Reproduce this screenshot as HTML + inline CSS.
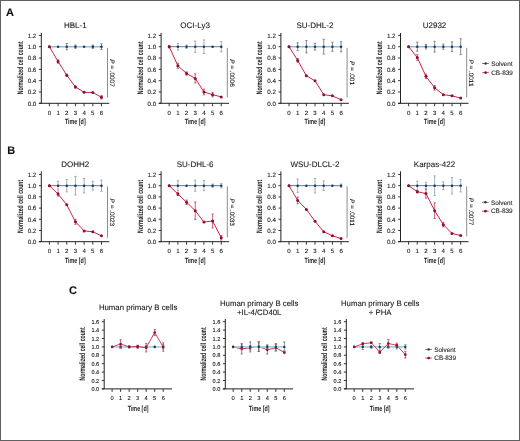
<!DOCTYPE html>
<html><head><meta charset="utf-8"><style>
html,body{margin:0;padding:0;background:#fff;}
#f{position:relative;width:520px;height:441px;box-sizing:border-box;border:1px solid #606060;overflow:hidden;background:#fff;}
text{stroke:#1a1a1a;stroke-width:0.1px;}
svg{position:absolute;left:-1px;top:-1px;font-family:"Liberation Sans", sans-serif;will-change:transform;text-rendering:geometricPrecision;}
</style></head><body><div id="f">
<svg width="520" height="441" viewBox="0 0 520 441">
<path d="M41.30 33.00V103.30M38.90 103.30H109.30" stroke="#222" stroke-width="1" fill="none"/>
<text x="36.30" y="105.53" font-size="6.2" text-anchor="end" fill="#1a1a1a" font-weight="normal" >0.0</text>
<text x="36.30" y="94.21" font-size="6.2" text-anchor="end" fill="#1a1a1a" font-weight="normal" >0.2</text>
<text x="36.30" y="82.89" font-size="6.2" text-anchor="end" fill="#1a1a1a" font-weight="normal" >0.4</text>
<text x="36.30" y="71.57" font-size="6.2" text-anchor="end" fill="#1a1a1a" font-weight="normal" >0.6</text>
<text x="36.30" y="60.25" font-size="6.2" text-anchor="end" fill="#1a1a1a" font-weight="normal" >0.8</text>
<text x="36.30" y="48.93" font-size="6.2" text-anchor="end" fill="#1a1a1a" font-weight="normal" >1.0</text>
<text x="36.30" y="37.61" font-size="6.2" text-anchor="end" fill="#1a1a1a" font-weight="normal" >1.2</text>
<text x="49.40" y="114.90" font-size="6.1" text-anchor="middle" fill="#1a1a1a" font-weight="normal" >0</text>
<text x="58.08" y="114.90" font-size="6.1" text-anchor="middle" fill="#1a1a1a" font-weight="normal" >1</text>
<text x="66.76" y="114.90" font-size="6.1" text-anchor="middle" fill="#1a1a1a" font-weight="normal" >2</text>
<text x="75.44" y="114.90" font-size="6.1" text-anchor="middle" fill="#1a1a1a" font-weight="normal" >3</text>
<text x="84.12" y="114.90" font-size="6.1" text-anchor="middle" fill="#1a1a1a" font-weight="normal" >4</text>
<text x="92.80" y="114.90" font-size="6.1" text-anchor="middle" fill="#1a1a1a" font-weight="normal" >5</text>
<text x="101.48" y="114.90" font-size="6.1" text-anchor="middle" fill="#1a1a1a" font-weight="normal" >6</text>
<path d="M38.90 103.30H41.30M38.90 91.98H41.30M38.90 80.66H41.30M38.90 69.34H41.30M38.90 58.02H41.30M38.90 46.70H41.30M38.90 35.38H41.30M49.40 103.30V106.30M58.08 103.30V106.30M66.76 103.30V106.30M75.44 103.30V106.30M84.12 103.30V106.30M92.80 103.30V106.30M101.48 103.30V106.30" stroke="#222" stroke-width="0.9" fill="none"/>
<text x="75.30" y="27.70" font-size="8.0" text-anchor="middle" fill="#1a1a1a" font-weight="normal" >HBL-1</text>
<text transform="translate(22.70,67.80) rotate(-90)" x="0" y="0" font-size="8" text-anchor="middle" fill="#1a1a1a" font-weight="bold" style="stroke:none" textLength="53" lengthAdjust="spacingAndGlyphs">Normalized cell count</text>
<text x="75.30" y="124.00" font-size="7.6" text-anchor="middle" fill="#1a1a1a" font-weight="bold" style="stroke:none" textLength="20.8" lengthAdjust="spacingAndGlyphs">Time [d]</text>
<polyline points="49.40,46.70 58.08,46.70 66.76,46.70 75.44,46.70 84.12,46.70 92.80,46.70 101.48,46.70" fill="none" stroke="#98bad8" stroke-width="1.6"/>
<path d="M66.76 43.59V49.81M65.66 43.59H67.86M65.66 49.81H67.86M75.44 45.00V48.40M74.34 45.00H76.54M74.34 48.40H76.54M92.80 45.00V48.40M91.70 45.00H93.90M91.70 48.40H93.90M101.48 43.87V49.53M100.38 43.87H102.58M100.38 49.53H102.58" stroke="#5c6670" stroke-width="0.75" fill="none"/>
<circle cx="49.40" cy="46.70" r="1.25" fill="#1d3a58"/>
<circle cx="58.08" cy="46.70" r="1.25" fill="#1d3a58"/>
<circle cx="66.76" cy="46.70" r="1.25" fill="#1d3a58"/>
<circle cx="75.44" cy="46.70" r="1.25" fill="#1d3a58"/>
<circle cx="84.12" cy="46.70" r="1.25" fill="#1d3a58"/>
<circle cx="92.80" cy="46.70" r="1.25" fill="#1d3a58"/>
<circle cx="101.48" cy="46.70" r="1.25" fill="#1d3a58"/>
<polyline points="49.40,46.70 58.08,61.59 66.76,75.23 75.44,86.94 84.12,92.32 92.80,92.55 101.48,97.30" fill="none" stroke="#c92340" stroke-width="1.0"/>
<path d="M58.08 59.89V63.28M56.98 59.89H59.18M56.98 63.28H59.18M66.76 74.09V76.36M65.66 74.09H67.86M65.66 76.36H67.86M75.44 85.81V88.07M74.34 85.81H76.54M74.34 88.07H76.54M101.48 95.60V99.00M100.38 95.60H102.58M100.38 99.00H102.58" stroke="#b83050" stroke-width="0.75" fill="none"/>
<circle cx="49.40" cy="46.70" r="1.5" fill="#8a1030"/>
<circle cx="58.08" cy="61.59" r="1.5" fill="#8a1030"/>
<circle cx="66.76" cy="75.23" r="1.5" fill="#8a1030"/>
<circle cx="75.44" cy="86.94" r="1.5" fill="#8a1030"/>
<circle cx="84.12" cy="92.32" r="1.5" fill="#8a1030"/>
<circle cx="92.80" cy="92.55" r="1.5" fill="#8a1030"/>
<circle cx="101.48" cy="97.30" r="1.5" fill="#8a1030"/>
<path d="M107.50 47.80V97.50" stroke="#808080" stroke-width="0.9" fill="none"/>
<text transform="translate(110.10,72.95) rotate(90)" x="0" y="0" font-size="6.4" text-anchor="middle" fill="#1a1a1a"><tspan font-style="italic">P</tspan> = .0007</text>
<path d="M161.10 33.00V103.30M158.70 103.30H229.10" stroke="#222" stroke-width="1" fill="none"/>
<text x="156.10" y="105.53" font-size="6.2" text-anchor="end" fill="#1a1a1a" font-weight="normal" >0.0</text>
<text x="156.10" y="94.21" font-size="6.2" text-anchor="end" fill="#1a1a1a" font-weight="normal" >0.2</text>
<text x="156.10" y="82.89" font-size="6.2" text-anchor="end" fill="#1a1a1a" font-weight="normal" >0.4</text>
<text x="156.10" y="71.57" font-size="6.2" text-anchor="end" fill="#1a1a1a" font-weight="normal" >0.6</text>
<text x="156.10" y="60.25" font-size="6.2" text-anchor="end" fill="#1a1a1a" font-weight="normal" >0.8</text>
<text x="156.10" y="48.93" font-size="6.2" text-anchor="end" fill="#1a1a1a" font-weight="normal" >1.0</text>
<text x="156.10" y="37.61" font-size="6.2" text-anchor="end" fill="#1a1a1a" font-weight="normal" >1.2</text>
<text x="169.20" y="114.90" font-size="6.1" text-anchor="middle" fill="#1a1a1a" font-weight="normal" >0</text>
<text x="177.88" y="114.90" font-size="6.1" text-anchor="middle" fill="#1a1a1a" font-weight="normal" >1</text>
<text x="186.56" y="114.90" font-size="6.1" text-anchor="middle" fill="#1a1a1a" font-weight="normal" >2</text>
<text x="195.24" y="114.90" font-size="6.1" text-anchor="middle" fill="#1a1a1a" font-weight="normal" >3</text>
<text x="203.92" y="114.90" font-size="6.1" text-anchor="middle" fill="#1a1a1a" font-weight="normal" >4</text>
<text x="212.60" y="114.90" font-size="6.1" text-anchor="middle" fill="#1a1a1a" font-weight="normal" >5</text>
<text x="221.28" y="114.90" font-size="6.1" text-anchor="middle" fill="#1a1a1a" font-weight="normal" >6</text>
<path d="M158.70 103.30H161.10M158.70 91.98H161.10M158.70 80.66H161.10M158.70 69.34H161.10M158.70 58.02H161.10M158.70 46.70H161.10M158.70 35.38H161.10M169.20 103.30V106.30M177.88 103.30V106.30M186.56 103.30V106.30M195.24 103.30V106.30M203.92 103.30V106.30M212.60 103.30V106.30M221.28 103.30V106.30" stroke="#222" stroke-width="0.9" fill="none"/>
<text x="195.10" y="27.70" font-size="8.0" text-anchor="middle" fill="#1a1a1a" font-weight="normal" >OCI-Ly3</text>
<text transform="translate(142.50,67.80) rotate(-90)" x="0" y="0" font-size="8" text-anchor="middle" fill="#1a1a1a" font-weight="bold" style="stroke:none" textLength="53" lengthAdjust="spacingAndGlyphs">Normalized cell count</text>
<text x="195.10" y="124.00" font-size="7.6" text-anchor="middle" fill="#1a1a1a" font-weight="bold" style="stroke:none" textLength="20.8" lengthAdjust="spacingAndGlyphs">Time [d]</text>
<polyline points="169.20,46.70 177.88,46.70 186.56,46.70 195.24,46.70 203.92,46.70 212.60,46.70 221.28,46.70" fill="none" stroke="#3d5f82" stroke-width="0.85"/>
<path d="M177.88 43.30V50.10M176.78 43.30H178.98M176.78 50.10H178.98M186.56 45.00V48.40M185.46 45.00H187.66M185.46 48.40H187.66M195.24 41.04V52.36M194.14 41.04H196.34M194.14 52.36H196.34M203.92 39.91V53.49M202.82 39.91H205.02M202.82 53.49H205.02M221.28 41.61V51.79M220.18 41.61H222.38M220.18 51.79H222.38" stroke="#7f95ab" stroke-width="0.75" fill="none"/>
<circle cx="169.20" cy="46.70" r="1.25" fill="#1d3a58"/>
<circle cx="177.88" cy="46.70" r="1.25" fill="#1d3a58"/>
<circle cx="186.56" cy="46.70" r="1.25" fill="#1d3a58"/>
<circle cx="195.24" cy="46.70" r="1.25" fill="#1d3a58"/>
<circle cx="203.92" cy="46.70" r="1.25" fill="#1d3a58"/>
<circle cx="212.60" cy="46.70" r="1.25" fill="#1d3a58"/>
<circle cx="221.28" cy="46.70" r="1.25" fill="#1d3a58"/>
<polyline points="169.20,46.70 177.88,65.77 186.56,73.53 195.24,78.40 203.92,91.98 212.60,94.64 221.28,96.90" fill="none" stroke="#c92340" stroke-width="1.0"/>
<path d="M169.20 45.57V47.83M168.10 45.57H170.30M168.10 47.83H170.30M177.88 63.23V68.32M176.78 63.23H178.98M176.78 68.32H178.98M186.56 71.83V75.23M185.46 71.83H187.66M185.46 75.23H187.66M195.24 73.87V82.92M194.14 73.87H196.34M194.14 82.92H196.34M203.92 89.15V94.81M202.82 89.15H205.02M202.82 94.81H205.02M212.60 92.38V96.90M211.50 92.38H213.70M211.50 96.90H213.70" stroke="#b83050" stroke-width="0.75" fill="none"/>
<circle cx="169.20" cy="46.70" r="1.5" fill="#8a1030"/>
<circle cx="177.88" cy="65.77" r="1.5" fill="#8a1030"/>
<circle cx="186.56" cy="73.53" r="1.5" fill="#8a1030"/>
<circle cx="195.24" cy="78.40" r="1.5" fill="#8a1030"/>
<circle cx="203.92" cy="91.98" r="1.5" fill="#8a1030"/>
<circle cx="212.60" cy="94.64" r="1.5" fill="#8a1030"/>
<circle cx="221.28" cy="96.90" r="1.5" fill="#8a1030"/>
<path d="M227.30 47.80V97.50" stroke="#808080" stroke-width="0.9" fill="none"/>
<text transform="translate(229.90,72.95) rotate(90)" x="0" y="0" font-size="6.4" text-anchor="middle" fill="#1a1a1a"><tspan font-style="italic">P</tspan> = .0006</text>
<path d="M280.90 33.00V103.30M278.50 103.30H348.90" stroke="#222" stroke-width="1" fill="none"/>
<text x="275.90" y="105.53" font-size="6.2" text-anchor="end" fill="#1a1a1a" font-weight="normal" >0.0</text>
<text x="275.90" y="94.21" font-size="6.2" text-anchor="end" fill="#1a1a1a" font-weight="normal" >0.2</text>
<text x="275.90" y="82.89" font-size="6.2" text-anchor="end" fill="#1a1a1a" font-weight="normal" >0.4</text>
<text x="275.90" y="71.57" font-size="6.2" text-anchor="end" fill="#1a1a1a" font-weight="normal" >0.6</text>
<text x="275.90" y="60.25" font-size="6.2" text-anchor="end" fill="#1a1a1a" font-weight="normal" >0.8</text>
<text x="275.90" y="48.93" font-size="6.2" text-anchor="end" fill="#1a1a1a" font-weight="normal" >1.0</text>
<text x="275.90" y="37.61" font-size="6.2" text-anchor="end" fill="#1a1a1a" font-weight="normal" >1.2</text>
<text x="289.00" y="114.90" font-size="6.1" text-anchor="middle" fill="#1a1a1a" font-weight="normal" >0</text>
<text x="297.68" y="114.90" font-size="6.1" text-anchor="middle" fill="#1a1a1a" font-weight="normal" >1</text>
<text x="306.36" y="114.90" font-size="6.1" text-anchor="middle" fill="#1a1a1a" font-weight="normal" >2</text>
<text x="315.04" y="114.90" font-size="6.1" text-anchor="middle" fill="#1a1a1a" font-weight="normal" >3</text>
<text x="323.72" y="114.90" font-size="6.1" text-anchor="middle" fill="#1a1a1a" font-weight="normal" >4</text>
<text x="332.40" y="114.90" font-size="6.1" text-anchor="middle" fill="#1a1a1a" font-weight="normal" >5</text>
<text x="341.08" y="114.90" font-size="6.1" text-anchor="middle" fill="#1a1a1a" font-weight="normal" >6</text>
<path d="M278.50 103.30H280.90M278.50 91.98H280.90M278.50 80.66H280.90M278.50 69.34H280.90M278.50 58.02H280.90M278.50 46.70H280.90M278.50 35.38H280.90M289.00 103.30V106.30M297.68 103.30V106.30M306.36 103.30V106.30M315.04 103.30V106.30M323.72 103.30V106.30M332.40 103.30V106.30M341.08 103.30V106.30" stroke="#222" stroke-width="0.9" fill="none"/>
<text x="314.90" y="27.70" font-size="8.0" text-anchor="middle" fill="#1a1a1a" font-weight="normal" >SU-DHL-2</text>
<text transform="translate(262.30,67.80) rotate(-90)" x="0" y="0" font-size="8" text-anchor="middle" fill="#1a1a1a" font-weight="bold" style="stroke:none" textLength="53" lengthAdjust="spacingAndGlyphs">Normalized cell count</text>
<text x="314.90" y="124.00" font-size="7.6" text-anchor="middle" fill="#1a1a1a" font-weight="bold" style="stroke:none" textLength="20.8" lengthAdjust="spacingAndGlyphs">Time [d]</text>
<polyline points="289.00,46.70 297.68,46.70 306.36,46.70 315.04,46.70 323.72,46.70 332.40,46.70 341.08,46.70" fill="none" stroke="#98bad8" stroke-width="1.6"/>
<path d="M297.68 42.74V50.66M296.58 42.74H298.78M296.58 50.66H298.78M306.36 40.47V52.93M305.26 40.47H307.46M305.26 52.93H307.46M315.04 43.30V50.10M313.94 43.30H316.14M313.94 50.10H316.14M323.72 39.34V54.06M322.62 39.34H324.82M322.62 54.06H324.82M332.40 42.17V51.23M331.30 42.17H333.50M331.30 51.23H333.50M341.08 41.61V51.79M339.98 41.61H342.18M339.98 51.79H342.18" stroke="#5c6670" stroke-width="0.75" fill="none"/>
<circle cx="289.00" cy="46.70" r="1.25" fill="#1d3a58"/>
<circle cx="297.68" cy="46.70" r="1.25" fill="#1d3a58"/>
<circle cx="306.36" cy="46.70" r="1.25" fill="#1d3a58"/>
<circle cx="315.04" cy="46.70" r="1.25" fill="#1d3a58"/>
<circle cx="323.72" cy="46.70" r="1.25" fill="#1d3a58"/>
<circle cx="332.40" cy="46.70" r="1.25" fill="#1d3a58"/>
<circle cx="341.08" cy="46.70" r="1.25" fill="#1d3a58"/>
<polyline points="289.00,46.70 297.68,60.45 306.36,75.74 315.04,80.83 323.72,94.70 332.40,95.83 341.08,99.79" fill="none" stroke="#c92340" stroke-width="1.0"/>
<path d="M297.68 58.47V62.43M296.58 58.47H298.78M296.58 62.43H298.78" stroke="#b83050" stroke-width="0.75" fill="none"/>
<circle cx="289.00" cy="46.70" r="1.5" fill="#8a1030"/>
<circle cx="297.68" cy="60.45" r="1.5" fill="#8a1030"/>
<circle cx="306.36" cy="75.74" r="1.5" fill="#8a1030"/>
<circle cx="315.04" cy="80.83" r="1.5" fill="#8a1030"/>
<circle cx="323.72" cy="94.70" r="1.5" fill="#8a1030"/>
<circle cx="332.40" cy="95.83" r="1.5" fill="#8a1030"/>
<circle cx="341.08" cy="99.79" r="1.5" fill="#8a1030"/>
<path d="M347.10 47.80V97.50" stroke="#808080" stroke-width="0.9" fill="none"/>
<text transform="translate(349.70,72.95) rotate(90)" x="0" y="0" font-size="6.4" text-anchor="middle" fill="#1a1a1a"><tspan font-style="italic">P</tspan> = .001</text>
<path d="M400.50 33.00V103.30M398.10 103.30H468.50" stroke="#222" stroke-width="1" fill="none"/>
<text x="395.50" y="105.53" font-size="6.2" text-anchor="end" fill="#1a1a1a" font-weight="normal" >0.0</text>
<text x="395.50" y="94.21" font-size="6.2" text-anchor="end" fill="#1a1a1a" font-weight="normal" >0.2</text>
<text x="395.50" y="82.89" font-size="6.2" text-anchor="end" fill="#1a1a1a" font-weight="normal" >0.4</text>
<text x="395.50" y="71.57" font-size="6.2" text-anchor="end" fill="#1a1a1a" font-weight="normal" >0.6</text>
<text x="395.50" y="60.25" font-size="6.2" text-anchor="end" fill="#1a1a1a" font-weight="normal" >0.8</text>
<text x="395.50" y="48.93" font-size="6.2" text-anchor="end" fill="#1a1a1a" font-weight="normal" >1.0</text>
<text x="395.50" y="37.61" font-size="6.2" text-anchor="end" fill="#1a1a1a" font-weight="normal" >1.2</text>
<text x="408.60" y="114.90" font-size="6.1" text-anchor="middle" fill="#1a1a1a" font-weight="normal" >0</text>
<text x="417.28" y="114.90" font-size="6.1" text-anchor="middle" fill="#1a1a1a" font-weight="normal" >1</text>
<text x="425.96" y="114.90" font-size="6.1" text-anchor="middle" fill="#1a1a1a" font-weight="normal" >2</text>
<text x="434.64" y="114.90" font-size="6.1" text-anchor="middle" fill="#1a1a1a" font-weight="normal" >3</text>
<text x="443.32" y="114.90" font-size="6.1" text-anchor="middle" fill="#1a1a1a" font-weight="normal" >4</text>
<text x="452.00" y="114.90" font-size="6.1" text-anchor="middle" fill="#1a1a1a" font-weight="normal" >5</text>
<text x="460.68" y="114.90" font-size="6.1" text-anchor="middle" fill="#1a1a1a" font-weight="normal" >6</text>
<path d="M398.10 103.30H400.50M398.10 91.98H400.50M398.10 80.66H400.50M398.10 69.34H400.50M398.10 58.02H400.50M398.10 46.70H400.50M398.10 35.38H400.50M408.60 103.30V106.30M417.28 103.30V106.30M425.96 103.30V106.30M434.64 103.30V106.30M443.32 103.30V106.30M452.00 103.30V106.30M460.68 103.30V106.30" stroke="#222" stroke-width="0.9" fill="none"/>
<text x="434.50" y="27.70" font-size="8.0" text-anchor="middle" fill="#1a1a1a" font-weight="normal" >U2932</text>
<text transform="translate(381.90,67.80) rotate(-90)" x="0" y="0" font-size="8" text-anchor="middle" fill="#1a1a1a" font-weight="bold" style="stroke:none" textLength="53" lengthAdjust="spacingAndGlyphs">Normalized cell count</text>
<text x="434.50" y="124.00" font-size="7.6" text-anchor="middle" fill="#1a1a1a" font-weight="bold" style="stroke:none" textLength="20.8" lengthAdjust="spacingAndGlyphs">Time [d]</text>
<polyline points="408.60,46.70 417.28,46.70 425.96,46.70 434.64,46.70 443.32,46.70 452.00,46.70 460.68,46.70" fill="none" stroke="#98bad8" stroke-width="1.6"/>
<path d="M417.28 42.17V51.23M416.18 42.17H418.38M416.18 51.23H418.38M425.96 44.44V48.96M424.86 44.44H427.06M424.86 48.96H427.06M434.64 41.32V52.08M433.54 41.32H435.74M433.54 52.08H435.74M443.32 44.15V49.25M442.22 44.15H444.42M442.22 49.25H444.42M452.00 41.89V51.51M450.90 41.89H453.10M450.90 51.51H453.10M460.68 38.78V54.62M459.58 38.78H461.78M459.58 54.62H461.78" stroke="#5c6670" stroke-width="0.75" fill="none"/>
<circle cx="408.60" cy="46.70" r="1.25" fill="#1d3a58"/>
<circle cx="417.28" cy="46.70" r="1.25" fill="#1d3a58"/>
<circle cx="425.96" cy="46.70" r="1.25" fill="#1d3a58"/>
<circle cx="434.64" cy="46.70" r="1.25" fill="#1d3a58"/>
<circle cx="443.32" cy="46.70" r="1.25" fill="#1d3a58"/>
<circle cx="452.00" cy="46.70" r="1.25" fill="#1d3a58"/>
<circle cx="460.68" cy="46.70" r="1.25" fill="#1d3a58"/>
<polyline points="408.60,46.70 417.28,57.45 425.96,76.36 434.64,87.73 443.32,94.70 452.00,95.83 460.68,98.09" fill="none" stroke="#c92340" stroke-width="1.0"/>
<path d="M417.28 54.62V60.28M416.18 54.62H418.38M416.18 60.28H418.38M425.96 74.09V78.62M424.86 74.09H427.06M424.86 78.62H427.06M434.64 85.47V90.00M433.54 85.47H435.74M433.54 90.00H435.74" stroke="#b83050" stroke-width="0.75" fill="none"/>
<circle cx="408.60" cy="46.70" r="1.5" fill="#8a1030"/>
<circle cx="417.28" cy="57.45" r="1.5" fill="#8a1030"/>
<circle cx="425.96" cy="76.36" r="1.5" fill="#8a1030"/>
<circle cx="434.64" cy="87.73" r="1.5" fill="#8a1030"/>
<circle cx="443.32" cy="94.70" r="1.5" fill="#8a1030"/>
<circle cx="452.00" cy="95.83" r="1.5" fill="#8a1030"/>
<circle cx="460.68" cy="98.09" r="1.5" fill="#8a1030"/>
<path d="M466.70 47.80V97.50" stroke="#808080" stroke-width="0.9" fill="none"/>
<text transform="translate(469.30,72.95) rotate(90)" x="0" y="0" font-size="6.4" text-anchor="middle" fill="#1a1a1a"><tspan font-style="italic">P</tspan> = .0011</text>
<path d="M41.30 171.40V241.70M38.90 241.70H109.30" stroke="#222" stroke-width="1" fill="none"/>
<text x="36.30" y="243.93" font-size="6.2" text-anchor="end" fill="#1a1a1a" font-weight="normal" >0.0</text>
<text x="36.30" y="232.73" font-size="6.2" text-anchor="end" fill="#1a1a1a" font-weight="normal" >0.2</text>
<text x="36.30" y="221.53" font-size="6.2" text-anchor="end" fill="#1a1a1a" font-weight="normal" >0.4</text>
<text x="36.30" y="210.33" font-size="6.2" text-anchor="end" fill="#1a1a1a" font-weight="normal" >0.6</text>
<text x="36.30" y="199.13" font-size="6.2" text-anchor="end" fill="#1a1a1a" font-weight="normal" >0.8</text>
<text x="36.30" y="187.93" font-size="6.2" text-anchor="end" fill="#1a1a1a" font-weight="normal" >1.0</text>
<text x="36.30" y="176.73" font-size="6.2" text-anchor="end" fill="#1a1a1a" font-weight="normal" >1.2</text>
<text x="49.40" y="253.40" font-size="6.1" text-anchor="middle" fill="#1a1a1a" font-weight="normal" >0</text>
<text x="58.08" y="253.40" font-size="6.1" text-anchor="middle" fill="#1a1a1a" font-weight="normal" >1</text>
<text x="66.76" y="253.40" font-size="6.1" text-anchor="middle" fill="#1a1a1a" font-weight="normal" >2</text>
<text x="75.44" y="253.40" font-size="6.1" text-anchor="middle" fill="#1a1a1a" font-weight="normal" >3</text>
<text x="84.12" y="253.40" font-size="6.1" text-anchor="middle" fill="#1a1a1a" font-weight="normal" >4</text>
<text x="92.80" y="253.40" font-size="6.1" text-anchor="middle" fill="#1a1a1a" font-weight="normal" >5</text>
<text x="101.48" y="253.40" font-size="6.1" text-anchor="middle" fill="#1a1a1a" font-weight="normal" >6</text>
<path d="M38.90 241.70H41.30M38.90 230.50H41.30M38.90 219.30H41.30M38.90 208.10H41.30M38.90 196.90H41.30M38.90 185.70H41.30M38.90 174.50H41.30M49.40 241.70V244.70M58.08 241.70V244.70M66.76 241.70V244.70M75.44 241.70V244.70M84.12 241.70V244.70M92.80 241.70V244.70M101.48 241.70V244.70" stroke="#222" stroke-width="0.9" fill="none"/>
<text x="75.30" y="167.00" font-size="8.0" text-anchor="middle" fill="#1a1a1a" font-weight="normal" >DOHH2</text>
<text transform="translate(22.70,206.40) rotate(-90)" x="0" y="0" font-size="8" text-anchor="middle" fill="#1a1a1a" font-weight="bold" style="stroke:none" textLength="53" lengthAdjust="spacingAndGlyphs">Normalized cell count</text>
<text x="75.30" y="263.30" font-size="7.6" text-anchor="middle" fill="#1a1a1a" font-weight="bold" style="stroke:none" textLength="20.8" lengthAdjust="spacingAndGlyphs">Time [d]</text>
<polyline points="49.40,185.70 58.08,185.70 66.76,185.70 75.44,185.70 84.12,185.70 92.80,185.70 101.48,185.70" fill="none" stroke="#3d5f82" stroke-width="0.85"/>
<path d="M58.08 181.22V190.18M56.98 181.22H59.18M56.98 190.18H59.18M66.76 179.54V191.86M65.66 179.54H67.86M65.66 191.86H67.86M75.44 176.40V195.00M74.34 176.40H76.54M74.34 195.00H76.54M84.12 178.42V192.98M83.02 178.42H85.22M83.02 192.98H85.22M92.80 181.22V190.18M91.70 181.22H93.90M91.70 190.18H93.90M101.48 180.10V191.30M100.38 180.10H102.58M100.38 191.30H102.58" stroke="#7f95ab" stroke-width="0.75" fill="none"/>
<circle cx="49.40" cy="185.70" r="1.25" fill="#1d3a58"/>
<circle cx="58.08" cy="185.70" r="1.25" fill="#1d3a58"/>
<circle cx="66.76" cy="185.70" r="1.25" fill="#1d3a58"/>
<circle cx="75.44" cy="185.70" r="1.25" fill="#1d3a58"/>
<circle cx="84.12" cy="185.70" r="1.25" fill="#1d3a58"/>
<circle cx="92.80" cy="185.70" r="1.25" fill="#1d3a58"/>
<circle cx="101.48" cy="185.70" r="1.25" fill="#1d3a58"/>
<polyline points="49.40,185.70 58.08,194.10 66.76,204.80 75.44,221.82 84.12,230.89 92.80,231.79 101.48,235.82" fill="none" stroke="#c92340" stroke-width="1.0"/>
<path d="M58.08 192.14V196.06M56.98 192.14H59.18M56.98 196.06H59.18M75.44 219.30V224.34M74.34 219.30H76.54M74.34 224.34H76.54" stroke="#b83050" stroke-width="0.75" fill="none"/>
<circle cx="49.40" cy="185.70" r="1.5" fill="#8a1030"/>
<circle cx="58.08" cy="194.10" r="1.5" fill="#8a1030"/>
<circle cx="66.76" cy="204.80" r="1.5" fill="#8a1030"/>
<circle cx="75.44" cy="221.82" r="1.5" fill="#8a1030"/>
<circle cx="84.12" cy="230.89" r="1.5" fill="#8a1030"/>
<circle cx="92.80" cy="231.79" r="1.5" fill="#8a1030"/>
<circle cx="101.48" cy="235.82" r="1.5" fill="#8a1030"/>
<path d="M107.50 186.30V237.80" stroke="#808080" stroke-width="0.9" fill="none"/>
<text transform="translate(110.10,212.35) rotate(90)" x="0" y="0" font-size="6.4" text-anchor="middle" fill="#1a1a1a"><tspan font-style="italic">P</tspan> = .0023</text>
<path d="M161.10 171.40V241.70M158.70 241.70H229.10" stroke="#222" stroke-width="1" fill="none"/>
<text x="156.10" y="243.93" font-size="6.2" text-anchor="end" fill="#1a1a1a" font-weight="normal" >0.0</text>
<text x="156.10" y="232.73" font-size="6.2" text-anchor="end" fill="#1a1a1a" font-weight="normal" >0.2</text>
<text x="156.10" y="221.53" font-size="6.2" text-anchor="end" fill="#1a1a1a" font-weight="normal" >0.4</text>
<text x="156.10" y="210.33" font-size="6.2" text-anchor="end" fill="#1a1a1a" font-weight="normal" >0.6</text>
<text x="156.10" y="199.13" font-size="6.2" text-anchor="end" fill="#1a1a1a" font-weight="normal" >0.8</text>
<text x="156.10" y="187.93" font-size="6.2" text-anchor="end" fill="#1a1a1a" font-weight="normal" >1.0</text>
<text x="156.10" y="176.73" font-size="6.2" text-anchor="end" fill="#1a1a1a" font-weight="normal" >1.2</text>
<text x="169.20" y="253.40" font-size="6.1" text-anchor="middle" fill="#1a1a1a" font-weight="normal" >0</text>
<text x="177.88" y="253.40" font-size="6.1" text-anchor="middle" fill="#1a1a1a" font-weight="normal" >1</text>
<text x="186.56" y="253.40" font-size="6.1" text-anchor="middle" fill="#1a1a1a" font-weight="normal" >2</text>
<text x="195.24" y="253.40" font-size="6.1" text-anchor="middle" fill="#1a1a1a" font-weight="normal" >3</text>
<text x="203.92" y="253.40" font-size="6.1" text-anchor="middle" fill="#1a1a1a" font-weight="normal" >4</text>
<text x="212.60" y="253.40" font-size="6.1" text-anchor="middle" fill="#1a1a1a" font-weight="normal" >5</text>
<text x="221.28" y="253.40" font-size="6.1" text-anchor="middle" fill="#1a1a1a" font-weight="normal" >6</text>
<path d="M158.70 241.70H161.10M158.70 230.50H161.10M158.70 219.30H161.10M158.70 208.10H161.10M158.70 196.90H161.10M158.70 185.70H161.10M158.70 174.50H161.10M169.20 241.70V244.70M177.88 241.70V244.70M186.56 241.70V244.70M195.24 241.70V244.70M203.92 241.70V244.70M212.60 241.70V244.70M221.28 241.70V244.70" stroke="#222" stroke-width="0.9" fill="none"/>
<text x="195.10" y="167.00" font-size="8.0" text-anchor="middle" fill="#1a1a1a" font-weight="normal" >SU-DHL-6</text>
<text transform="translate(142.50,206.40) rotate(-90)" x="0" y="0" font-size="8" text-anchor="middle" fill="#1a1a1a" font-weight="bold" style="stroke:none" textLength="53" lengthAdjust="spacingAndGlyphs">Normalized cell count</text>
<text x="195.10" y="263.30" font-size="7.6" text-anchor="middle" fill="#1a1a1a" font-weight="bold" style="stroke:none" textLength="20.8" lengthAdjust="spacingAndGlyphs">Time [d]</text>
<polyline points="169.20,185.70 177.88,185.70 186.56,185.70 195.24,185.70 203.92,185.70 212.60,185.70 221.28,185.70" fill="none" stroke="#3d5f82" stroke-width="0.85"/>
<path d="M177.88 180.66V190.74M176.78 180.66H178.98M176.78 190.74H178.98M195.24 180.10V191.30M194.14 180.10H196.34M194.14 191.30H196.34M203.92 180.66V190.74M202.82 180.66H205.02M202.82 190.74H205.02M212.60 184.02V187.38M211.50 184.02H213.70M211.50 187.38H213.70M221.28 183.46V187.94M220.18 183.46H222.38M220.18 187.94H222.38" stroke="#7f95ab" stroke-width="0.75" fill="none"/>
<circle cx="169.20" cy="185.70" r="1.25" fill="#1d3a58"/>
<circle cx="177.88" cy="185.70" r="1.25" fill="#1d3a58"/>
<circle cx="186.56" cy="185.70" r="1.25" fill="#1d3a58"/>
<circle cx="195.24" cy="185.70" r="1.25" fill="#1d3a58"/>
<circle cx="203.92" cy="185.70" r="1.25" fill="#1d3a58"/>
<circle cx="212.60" cy="185.70" r="1.25" fill="#1d3a58"/>
<circle cx="221.28" cy="185.70" r="1.25" fill="#1d3a58"/>
<polyline points="169.20,185.70 177.88,193.99 186.56,202.28 195.24,210.68 203.92,222.10 212.60,220.98 221.28,237.78" fill="none" stroke="#c92340" stroke-width="1.0"/>
<path d="M177.88 192.31V195.67M176.78 192.31H178.98M176.78 195.67H178.98M186.56 200.04V204.52M185.46 200.04H187.66M185.46 204.52H187.66M195.24 202.00V219.36M194.14 202.00H196.34M194.14 219.36H196.34M212.60 214.09V227.87M211.50 214.09H213.70M211.50 227.87H213.70M221.28 235.54V240.02M220.18 235.54H222.38M220.18 240.02H222.38" stroke="#b83050" stroke-width="0.75" fill="none"/>
<circle cx="169.20" cy="185.70" r="1.5" fill="#8a1030"/>
<circle cx="177.88" cy="193.99" r="1.5" fill="#8a1030"/>
<circle cx="186.56" cy="202.28" r="1.5" fill="#8a1030"/>
<circle cx="195.24" cy="210.68" r="1.5" fill="#8a1030"/>
<circle cx="203.92" cy="222.10" r="1.5" fill="#8a1030"/>
<circle cx="212.60" cy="220.98" r="1.5" fill="#8a1030"/>
<circle cx="221.28" cy="237.78" r="1.5" fill="#8a1030"/>
<path d="M227.30 186.30V237.40" stroke="#808080" stroke-width="0.9" fill="none"/>
<text transform="translate(229.90,212.15) rotate(90)" x="0" y="0" font-size="6.4" text-anchor="middle" fill="#1a1a1a"><tspan font-style="italic">P</tspan> = .0033</text>
<path d="M280.90 171.40V241.70M278.50 241.70H348.90" stroke="#222" stroke-width="1" fill="none"/>
<text x="275.90" y="243.93" font-size="6.2" text-anchor="end" fill="#1a1a1a" font-weight="normal" >0.0</text>
<text x="275.90" y="232.73" font-size="6.2" text-anchor="end" fill="#1a1a1a" font-weight="normal" >0.2</text>
<text x="275.90" y="221.53" font-size="6.2" text-anchor="end" fill="#1a1a1a" font-weight="normal" >0.4</text>
<text x="275.90" y="210.33" font-size="6.2" text-anchor="end" fill="#1a1a1a" font-weight="normal" >0.6</text>
<text x="275.90" y="199.13" font-size="6.2" text-anchor="end" fill="#1a1a1a" font-weight="normal" >0.8</text>
<text x="275.90" y="187.93" font-size="6.2" text-anchor="end" fill="#1a1a1a" font-weight="normal" >1.0</text>
<text x="275.90" y="176.73" font-size="6.2" text-anchor="end" fill="#1a1a1a" font-weight="normal" >1.2</text>
<text x="289.00" y="253.40" font-size="6.1" text-anchor="middle" fill="#1a1a1a" font-weight="normal" >0</text>
<text x="297.68" y="253.40" font-size="6.1" text-anchor="middle" fill="#1a1a1a" font-weight="normal" >1</text>
<text x="306.36" y="253.40" font-size="6.1" text-anchor="middle" fill="#1a1a1a" font-weight="normal" >2</text>
<text x="315.04" y="253.40" font-size="6.1" text-anchor="middle" fill="#1a1a1a" font-weight="normal" >3</text>
<text x="323.72" y="253.40" font-size="6.1" text-anchor="middle" fill="#1a1a1a" font-weight="normal" >4</text>
<text x="332.40" y="253.40" font-size="6.1" text-anchor="middle" fill="#1a1a1a" font-weight="normal" >5</text>
<text x="341.08" y="253.40" font-size="6.1" text-anchor="middle" fill="#1a1a1a" font-weight="normal" >6</text>
<path d="M278.50 241.70H280.90M278.50 230.50H280.90M278.50 219.30H280.90M278.50 208.10H280.90M278.50 196.90H280.90M278.50 185.70H280.90M278.50 174.50H280.90M289.00 241.70V244.70M297.68 241.70V244.70M306.36 241.70V244.70M315.04 241.70V244.70M323.72 241.70V244.70M332.40 241.70V244.70M341.08 241.70V244.70" stroke="#222" stroke-width="0.9" fill="none"/>
<text x="314.90" y="167.00" font-size="8.0" text-anchor="middle" fill="#1a1a1a" font-weight="normal" >WSU-DLCL-2</text>
<text transform="translate(262.30,206.40) rotate(-90)" x="0" y="0" font-size="8" text-anchor="middle" fill="#1a1a1a" font-weight="bold" style="stroke:none" textLength="53" lengthAdjust="spacingAndGlyphs">Normalized cell count</text>
<text x="314.90" y="263.30" font-size="7.6" text-anchor="middle" fill="#1a1a1a" font-weight="bold" style="stroke:none" textLength="20.8" lengthAdjust="spacingAndGlyphs">Time [d]</text>
<polyline points="289.00,185.70 297.68,185.70 306.36,185.70 315.04,185.70 323.72,185.70 332.40,185.70 341.08,185.70" fill="none" stroke="#3d5f82" stroke-width="0.85"/>
<path d="M297.68 178.98V192.42M296.58 178.98H298.78M296.58 192.42H298.78M315.04 178.42V192.98M313.94 178.42H316.14M313.94 192.98H316.14M323.72 180.94V190.46M322.62 180.94H324.82M322.62 190.46H324.82M341.08 184.02V187.38M339.98 184.02H342.18M339.98 187.38H342.18" stroke="#7f95ab" stroke-width="0.75" fill="none"/>
<circle cx="289.00" cy="185.70" r="1.25" fill="#1d3a58"/>
<circle cx="297.68" cy="185.70" r="1.25" fill="#1d3a58"/>
<circle cx="306.36" cy="185.70" r="1.25" fill="#1d3a58"/>
<circle cx="315.04" cy="185.70" r="1.25" fill="#1d3a58"/>
<circle cx="323.72" cy="185.70" r="1.25" fill="#1d3a58"/>
<circle cx="332.40" cy="185.70" r="1.25" fill="#1d3a58"/>
<circle cx="341.08" cy="185.70" r="1.25" fill="#1d3a58"/>
<polyline points="289.00,185.70 297.68,200.43 306.36,209.39 315.04,221.32 323.72,231.68 332.40,235.82 341.08,238.51" fill="none" stroke="#c92340" stroke-width="1.0"/>
<path d="M297.68 197.07V203.79M296.58 197.07H298.78M296.58 203.79H298.78" stroke="#b83050" stroke-width="0.75" fill="none"/>
<circle cx="289.00" cy="185.70" r="1.5" fill="#8a1030"/>
<circle cx="297.68" cy="200.43" r="1.5" fill="#8a1030"/>
<circle cx="306.36" cy="209.39" r="1.5" fill="#8a1030"/>
<circle cx="315.04" cy="221.32" r="1.5" fill="#8a1030"/>
<circle cx="323.72" cy="231.68" r="1.5" fill="#8a1030"/>
<circle cx="332.40" cy="235.82" r="1.5" fill="#8a1030"/>
<circle cx="341.08" cy="238.51" r="1.5" fill="#8a1030"/>
<path d="M347.10 186.30V238.00" stroke="#808080" stroke-width="0.9" fill="none"/>
<text transform="translate(349.70,212.45) rotate(90)" x="0" y="0" font-size="6.4" text-anchor="middle" fill="#1a1a1a"><tspan font-style="italic">P</tspan> = .0011</text>
<path d="M400.50 171.40V241.70M398.10 241.70H468.50" stroke="#222" stroke-width="1" fill="none"/>
<text x="395.50" y="243.93" font-size="6.2" text-anchor="end" fill="#1a1a1a" font-weight="normal" >0.0</text>
<text x="395.50" y="232.73" font-size="6.2" text-anchor="end" fill="#1a1a1a" font-weight="normal" >0.2</text>
<text x="395.50" y="221.53" font-size="6.2" text-anchor="end" fill="#1a1a1a" font-weight="normal" >0.4</text>
<text x="395.50" y="210.33" font-size="6.2" text-anchor="end" fill="#1a1a1a" font-weight="normal" >0.6</text>
<text x="395.50" y="199.13" font-size="6.2" text-anchor="end" fill="#1a1a1a" font-weight="normal" >0.8</text>
<text x="395.50" y="187.93" font-size="6.2" text-anchor="end" fill="#1a1a1a" font-weight="normal" >1.0</text>
<text x="395.50" y="176.73" font-size="6.2" text-anchor="end" fill="#1a1a1a" font-weight="normal" >1.2</text>
<text x="408.60" y="253.40" font-size="6.1" text-anchor="middle" fill="#1a1a1a" font-weight="normal" >0</text>
<text x="417.28" y="253.40" font-size="6.1" text-anchor="middle" fill="#1a1a1a" font-weight="normal" >1</text>
<text x="425.96" y="253.40" font-size="6.1" text-anchor="middle" fill="#1a1a1a" font-weight="normal" >2</text>
<text x="434.64" y="253.40" font-size="6.1" text-anchor="middle" fill="#1a1a1a" font-weight="normal" >3</text>
<text x="443.32" y="253.40" font-size="6.1" text-anchor="middle" fill="#1a1a1a" font-weight="normal" >4</text>
<text x="452.00" y="253.40" font-size="6.1" text-anchor="middle" fill="#1a1a1a" font-weight="normal" >5</text>
<text x="460.68" y="253.40" font-size="6.1" text-anchor="middle" fill="#1a1a1a" font-weight="normal" >6</text>
<path d="M398.10 241.70H400.50M398.10 230.50H400.50M398.10 219.30H400.50M398.10 208.10H400.50M398.10 196.90H400.50M398.10 185.70H400.50M398.10 174.50H400.50M408.60 241.70V244.70M417.28 241.70V244.70M425.96 241.70V244.70M434.64 241.70V244.70M443.32 241.70V244.70M452.00 241.70V244.70M460.68 241.70V244.70" stroke="#222" stroke-width="0.9" fill="none"/>
<text x="434.50" y="167.00" font-size="8.0" text-anchor="middle" fill="#1a1a1a" font-weight="normal" >Karpas-422</text>
<text transform="translate(381.90,206.40) rotate(-90)" x="0" y="0" font-size="8" text-anchor="middle" fill="#1a1a1a" font-weight="bold" style="stroke:none" textLength="53" lengthAdjust="spacingAndGlyphs">Normalized cell count</text>
<text x="434.50" y="263.30" font-size="7.6" text-anchor="middle" fill="#1a1a1a" font-weight="bold" style="stroke:none" textLength="20.8" lengthAdjust="spacingAndGlyphs">Time [d]</text>
<polyline points="408.60,185.70 417.28,185.70 425.96,185.70 434.64,185.70 443.32,185.70 452.00,185.70 460.68,185.70" fill="none" stroke="#3d5f82" stroke-width="0.85"/>
<path d="M417.28 181.22V190.18M416.18 181.22H418.38M416.18 190.18H418.38M425.96 182.34V189.06M424.86 182.34H427.06M424.86 189.06H427.06M434.64 175.90V195.50M433.54 175.90H435.74M433.54 195.50H435.74M443.32 181.78V189.62M442.22 181.78H444.42M442.22 189.62H444.42M452.00 177.52V193.88M450.90 177.52H453.10M450.90 193.88H453.10M460.68 179.54V191.86M459.58 179.54H461.78M459.58 191.86H461.78" stroke="#7f95ab" stroke-width="0.75" fill="none"/>
<circle cx="408.60" cy="185.70" r="1.25" fill="#1d3a58"/>
<circle cx="417.28" cy="185.70" r="1.25" fill="#1d3a58"/>
<circle cx="425.96" cy="185.70" r="1.25" fill="#1d3a58"/>
<circle cx="434.64" cy="185.70" r="1.25" fill="#1d3a58"/>
<circle cx="443.32" cy="185.70" r="1.25" fill="#1d3a58"/>
<circle cx="452.00" cy="185.70" r="1.25" fill="#1d3a58"/>
<circle cx="460.68" cy="185.70" r="1.25" fill="#1d3a58"/>
<polyline points="408.60,185.70 417.28,191.69 425.96,193.60 434.64,210.68 443.32,224.68 452.00,233.41 460.68,235.60" fill="none" stroke="#c92340" stroke-width="1.0"/>
<path d="M417.28 190.57V192.81M416.18 190.57H418.38M416.18 192.81H418.38M425.96 189.12V198.08M424.86 189.12H427.06M424.86 198.08H427.06M434.64 202.84V218.52M433.54 202.84H435.74M433.54 218.52H435.74M443.32 222.44V226.92M442.22 222.44H444.42M442.22 226.92H444.42" stroke="#b83050" stroke-width="0.75" fill="none"/>
<circle cx="408.60" cy="185.70" r="1.5" fill="#8a1030"/>
<circle cx="417.28" cy="191.69" r="1.5" fill="#8a1030"/>
<circle cx="425.96" cy="193.60" r="1.5" fill="#8a1030"/>
<circle cx="434.64" cy="210.68" r="1.5" fill="#8a1030"/>
<circle cx="443.32" cy="224.68" r="1.5" fill="#8a1030"/>
<circle cx="452.00" cy="233.41" r="1.5" fill="#8a1030"/>
<circle cx="460.68" cy="235.60" r="1.5" fill="#8a1030"/>
<path d="M466.70 186.30V236.30" stroke="#808080" stroke-width="0.9" fill="none"/>
<text transform="translate(469.30,211.60) rotate(90)" x="0" y="0" font-size="6.4" text-anchor="middle" fill="#1a1a1a"><tspan font-style="italic">P</tspan> = .0077</text>
<path d="M104.20 319.00V388.90M101.80 388.90H172.00" stroke="#222" stroke-width="1" fill="none"/>
<text x="99.20" y="390.92" font-size="5.6" text-anchor="end" fill="#1a1a1a" font-weight="normal" >0.0</text>
<text x="99.20" y="382.52" font-size="5.6" text-anchor="end" fill="#1a1a1a" font-weight="normal" >0.2</text>
<text x="99.20" y="374.12" font-size="5.6" text-anchor="end" fill="#1a1a1a" font-weight="normal" >0.4</text>
<text x="99.20" y="365.72" font-size="5.6" text-anchor="end" fill="#1a1a1a" font-weight="normal" >0.6</text>
<text x="99.20" y="357.32" font-size="5.6" text-anchor="end" fill="#1a1a1a" font-weight="normal" >0.8</text>
<text x="99.20" y="348.92" font-size="5.6" text-anchor="end" fill="#1a1a1a" font-weight="normal" >1.0</text>
<text x="99.20" y="340.52" font-size="5.6" text-anchor="end" fill="#1a1a1a" font-weight="normal" >1.2</text>
<text x="99.20" y="332.12" font-size="5.6" text-anchor="end" fill="#1a1a1a" font-weight="normal" >1.4</text>
<text x="99.20" y="323.72" font-size="5.6" text-anchor="end" fill="#1a1a1a" font-weight="normal" >1.6</text>
<text x="112.10" y="399.60" font-size="5.7" text-anchor="middle" fill="#1a1a1a" font-weight="normal" >0</text>
<text x="120.62" y="399.60" font-size="5.7" text-anchor="middle" fill="#1a1a1a" font-weight="normal" >1</text>
<text x="129.14" y="399.60" font-size="5.7" text-anchor="middle" fill="#1a1a1a" font-weight="normal" >2</text>
<text x="137.66" y="399.60" font-size="5.7" text-anchor="middle" fill="#1a1a1a" font-weight="normal" >3</text>
<text x="146.18" y="399.60" font-size="5.7" text-anchor="middle" fill="#1a1a1a" font-weight="normal" >4</text>
<text x="154.70" y="399.60" font-size="5.7" text-anchor="middle" fill="#1a1a1a" font-weight="normal" >5</text>
<text x="163.22" y="399.60" font-size="5.7" text-anchor="middle" fill="#1a1a1a" font-weight="normal" >6</text>
<path d="M101.80 388.90H104.20M101.80 380.50H104.20M101.80 372.10H104.20M101.80 363.70H104.20M101.80 355.30H104.20M101.80 346.90H104.20M101.80 338.50H104.20M101.80 330.10H104.20M101.80 321.70H104.20M112.10 388.90V391.90M120.62 388.90V391.90M129.14 388.90V391.90M137.66 388.90V391.90M146.18 388.90V391.90M154.70 388.90V391.90M163.22 388.90V391.90" stroke="#222" stroke-width="0.9" fill="none"/>
<text x="138.10" y="309.90" font-size="7.8" text-anchor="middle" fill="#1a1a1a" font-weight="normal" >Human primary B cells</text>
<text transform="translate(85.10,353.90) rotate(-90)" x="0" y="0" font-size="8" text-anchor="middle" fill="#1a1a1a" font-weight="bold" style="stroke:none" textLength="53" lengthAdjust="spacingAndGlyphs">Normalized cell count</text>
<text x="138.10" y="411.00" font-size="7.6" text-anchor="middle" fill="#1a1a1a" font-weight="bold" style="stroke:none" textLength="20.8" lengthAdjust="spacingAndGlyphs">Time [d]</text>
<polyline points="112.10,346.90 120.62,346.90 129.14,346.90 137.66,346.90 146.18,346.90 154.70,346.90 163.22,346.90" fill="none" stroke="#a6d0e0" stroke-width="1.6"/>
<path d="M120.62 345.64V348.16M119.52 345.64H121.72M119.52 348.16H121.72M129.14 346.06V347.74M128.04 346.06H130.24M128.04 347.74H130.24M137.66 345.64V348.16M136.56 345.64H138.76M136.56 348.16H138.76M146.18 345.64V348.16M145.08 345.64H147.28M145.08 348.16H147.28M154.70 346.06V347.74M153.60 346.06H155.80M153.60 347.74H155.80M163.22 344.80V349.00M162.12 344.80H164.32M162.12 349.00H164.32" stroke="#5c6670" stroke-width="0.75" fill="none"/>
<circle cx="112.10" cy="346.90" r="1.2" fill="#1d3a58"/>
<circle cx="120.62" cy="346.90" r="1.2" fill="#1d3a58"/>
<circle cx="129.14" cy="346.90" r="1.2" fill="#1d3a58"/>
<circle cx="137.66" cy="346.90" r="1.2" fill="#1d3a58"/>
<circle cx="146.18" cy="346.90" r="1.2" fill="#1d3a58"/>
<circle cx="154.70" cy="346.90" r="1.2" fill="#1d3a58"/>
<circle cx="163.22" cy="346.90" r="1.2" fill="#1d3a58"/>
<polyline points="112.10,346.90 120.62,343.96 129.14,346.90 137.66,346.48 146.18,347.74 154.70,332.49 163.22,347.03" fill="none" stroke="#cc2a48" stroke-width="0.9"/>
<path d="M120.62 339.76V348.16M119.52 339.76H121.72M119.52 348.16H121.72M129.14 346.06V347.74M128.04 346.06H130.24M128.04 347.74H130.24M137.66 345.22V347.74M136.56 345.22H138.76M136.56 347.74H138.76M146.18 343.54V351.94M145.08 343.54H147.28M145.08 351.94H147.28M154.70 329.55V335.43M153.60 329.55H155.80M153.60 335.43H155.80M163.22 342.83V351.23M162.12 342.83H164.32M162.12 351.23H164.32" stroke="#b83050" stroke-width="0.75" fill="none"/>
<circle cx="112.10" cy="346.90" r="1.3" fill="#8a1030"/>
<circle cx="120.62" cy="343.96" r="1.3" fill="#8a1030"/>
<circle cx="129.14" cy="346.90" r="1.3" fill="#8a1030"/>
<circle cx="137.66" cy="346.48" r="1.3" fill="#8a1030"/>
<circle cx="146.18" cy="347.74" r="1.3" fill="#8a1030"/>
<circle cx="154.70" cy="332.49" r="1.3" fill="#8a1030"/>
<circle cx="163.22" cy="347.03" r="1.3" fill="#8a1030"/>
<path d="M225.30 319.00V388.90M222.90 388.90H293.10" stroke="#222" stroke-width="1" fill="none"/>
<text x="220.30" y="390.92" font-size="5.6" text-anchor="end" fill="#1a1a1a" font-weight="normal" >0.0</text>
<text x="220.30" y="382.52" font-size="5.6" text-anchor="end" fill="#1a1a1a" font-weight="normal" >0.2</text>
<text x="220.30" y="374.12" font-size="5.6" text-anchor="end" fill="#1a1a1a" font-weight="normal" >0.4</text>
<text x="220.30" y="365.72" font-size="5.6" text-anchor="end" fill="#1a1a1a" font-weight="normal" >0.6</text>
<text x="220.30" y="357.32" font-size="5.6" text-anchor="end" fill="#1a1a1a" font-weight="normal" >0.8</text>
<text x="220.30" y="348.92" font-size="5.6" text-anchor="end" fill="#1a1a1a" font-weight="normal" >1.0</text>
<text x="220.30" y="340.52" font-size="5.6" text-anchor="end" fill="#1a1a1a" font-weight="normal" >1.2</text>
<text x="220.30" y="332.12" font-size="5.6" text-anchor="end" fill="#1a1a1a" font-weight="normal" >1.4</text>
<text x="220.30" y="323.72" font-size="5.6" text-anchor="end" fill="#1a1a1a" font-weight="normal" >1.6</text>
<text x="233.20" y="399.60" font-size="5.7" text-anchor="middle" fill="#1a1a1a" font-weight="normal" >0</text>
<text x="241.72" y="399.60" font-size="5.7" text-anchor="middle" fill="#1a1a1a" font-weight="normal" >1</text>
<text x="250.24" y="399.60" font-size="5.7" text-anchor="middle" fill="#1a1a1a" font-weight="normal" >2</text>
<text x="258.76" y="399.60" font-size="5.7" text-anchor="middle" fill="#1a1a1a" font-weight="normal" >3</text>
<text x="267.28" y="399.60" font-size="5.7" text-anchor="middle" fill="#1a1a1a" font-weight="normal" >4</text>
<text x="275.80" y="399.60" font-size="5.7" text-anchor="middle" fill="#1a1a1a" font-weight="normal" >5</text>
<text x="284.32" y="399.60" font-size="5.7" text-anchor="middle" fill="#1a1a1a" font-weight="normal" >6</text>
<path d="M222.90 388.90H225.30M222.90 380.50H225.30M222.90 372.10H225.30M222.90 363.70H225.30M222.90 355.30H225.30M222.90 346.90H225.30M222.90 338.50H225.30M222.90 330.10H225.30M222.90 321.70H225.30M233.20 388.90V391.90M241.72 388.90V391.90M250.24 388.90V391.90M258.76 388.90V391.90M267.28 388.90V391.90M275.80 388.90V391.90M284.32 388.90V391.90" stroke="#222" stroke-width="0.9" fill="none"/>
<text x="259.20" y="305.50" font-size="7.8" text-anchor="middle" fill="#1a1a1a" font-weight="normal" >Human primary B cells</text>
<text x="259.20" y="314.50" font-size="7.8" text-anchor="middle" fill="#1a1a1a" font-weight="normal" >+IL-4/CD40L</text>
<text transform="translate(206.20,353.90) rotate(-90)" x="0" y="0" font-size="8" text-anchor="middle" fill="#1a1a1a" font-weight="bold" style="stroke:none" textLength="53" lengthAdjust="spacingAndGlyphs">Normalized cell count</text>
<text x="259.20" y="411.00" font-size="7.6" text-anchor="middle" fill="#1a1a1a" font-weight="bold" style="stroke:none" textLength="20.8" lengthAdjust="spacingAndGlyphs">Time [d]</text>
<polyline points="233.20,346.90 241.72,348.87 250.24,347.74 258.76,346.48 267.28,349.84 275.80,347.74 284.32,352.36" fill="none" stroke="#a02848" stroke-width="0.9"/>
<path d="M241.72 343.83V353.91M240.62 343.83H242.82M240.62 353.91H242.82M250.24 345.64V349.84M249.14 345.64H251.34M249.14 349.84H251.34M258.76 341.44V351.52M257.66 341.44H259.86M257.66 351.52H259.86M267.28 345.64V354.04M266.18 345.64H268.38M266.18 354.04H268.38M275.80 344.38V351.10M274.70 344.38H276.90M274.70 351.10H276.90M284.32 351.10V353.62M283.22 351.10H285.42M283.22 353.62H285.42" stroke="#b83050" stroke-width="0.75" fill="none"/>
<circle cx="233.20" cy="346.90" r="1.3" fill="#8a1030"/>
<circle cx="241.72" cy="348.87" r="1.3" fill="#8a1030"/>
<circle cx="250.24" cy="347.74" r="1.3" fill="#8a1030"/>
<circle cx="258.76" cy="346.48" r="1.3" fill="#8a1030"/>
<circle cx="267.28" cy="349.84" r="1.3" fill="#8a1030"/>
<circle cx="275.80" cy="347.74" r="1.3" fill="#8a1030"/>
<circle cx="284.32" cy="352.36" r="1.3" fill="#8a1030"/>
<polyline points="233.20,346.90 241.72,346.90 250.24,346.90 258.76,346.90 267.28,346.90 275.80,346.90 284.32,346.90" fill="none" stroke="#a6d0e0" stroke-width="1.6"/>
<path d="M241.72 343.96V349.84M240.62 343.96H242.82M240.62 349.84H242.82M250.24 341.86V351.94M249.14 341.86H251.34M249.14 351.94H251.34M258.76 342.70V351.10M257.66 342.70H259.86M257.66 351.10H259.86M267.28 344.80V349.00M266.18 344.80H268.38M266.18 349.00H268.38M275.80 343.54V350.26M274.70 343.54H276.90M274.70 350.26H276.90M284.32 341.86V351.94M283.22 341.86H285.42M283.22 351.94H285.42" stroke="#5c6670" stroke-width="0.75" fill="none"/>
<circle cx="233.20" cy="346.90" r="1.2" fill="#1d3a58"/>
<circle cx="241.72" cy="346.90" r="1.2" fill="#1d3a58"/>
<circle cx="250.24" cy="346.90" r="1.2" fill="#1d3a58"/>
<circle cx="258.76" cy="346.90" r="1.2" fill="#1d3a58"/>
<circle cx="267.28" cy="346.90" r="1.2" fill="#1d3a58"/>
<circle cx="275.80" cy="346.90" r="1.2" fill="#1d3a58"/>
<circle cx="284.32" cy="346.90" r="1.2" fill="#1d3a58"/>
<path d="M346.30 319.00V388.90M343.90 388.90H414.10" stroke="#222" stroke-width="1" fill="none"/>
<text x="341.30" y="390.92" font-size="5.6" text-anchor="end" fill="#1a1a1a" font-weight="normal" >0.0</text>
<text x="341.30" y="382.52" font-size="5.6" text-anchor="end" fill="#1a1a1a" font-weight="normal" >0.2</text>
<text x="341.30" y="374.12" font-size="5.6" text-anchor="end" fill="#1a1a1a" font-weight="normal" >0.4</text>
<text x="341.30" y="365.72" font-size="5.6" text-anchor="end" fill="#1a1a1a" font-weight="normal" >0.6</text>
<text x="341.30" y="357.32" font-size="5.6" text-anchor="end" fill="#1a1a1a" font-weight="normal" >0.8</text>
<text x="341.30" y="348.92" font-size="5.6" text-anchor="end" fill="#1a1a1a" font-weight="normal" >1.0</text>
<text x="341.30" y="340.52" font-size="5.6" text-anchor="end" fill="#1a1a1a" font-weight="normal" >1.2</text>
<text x="341.30" y="332.12" font-size="5.6" text-anchor="end" fill="#1a1a1a" font-weight="normal" >1.4</text>
<text x="341.30" y="323.72" font-size="5.6" text-anchor="end" fill="#1a1a1a" font-weight="normal" >1.6</text>
<text x="354.20" y="399.60" font-size="5.7" text-anchor="middle" fill="#1a1a1a" font-weight="normal" >0</text>
<text x="362.72" y="399.60" font-size="5.7" text-anchor="middle" fill="#1a1a1a" font-weight="normal" >1</text>
<text x="371.24" y="399.60" font-size="5.7" text-anchor="middle" fill="#1a1a1a" font-weight="normal" >2</text>
<text x="379.76" y="399.60" font-size="5.7" text-anchor="middle" fill="#1a1a1a" font-weight="normal" >3</text>
<text x="388.28" y="399.60" font-size="5.7" text-anchor="middle" fill="#1a1a1a" font-weight="normal" >4</text>
<text x="396.80" y="399.60" font-size="5.7" text-anchor="middle" fill="#1a1a1a" font-weight="normal" >5</text>
<text x="405.32" y="399.60" font-size="5.7" text-anchor="middle" fill="#1a1a1a" font-weight="normal" >6</text>
<path d="M343.90 388.90H346.30M343.90 380.50H346.30M343.90 372.10H346.30M343.90 363.70H346.30M343.90 355.30H346.30M343.90 346.90H346.30M343.90 338.50H346.30M343.90 330.10H346.30M343.90 321.70H346.30M354.20 388.90V391.90M362.72 388.90V391.90M371.24 388.90V391.90M379.76 388.90V391.90M388.28 388.90V391.90M396.80 388.90V391.90M405.32 388.90V391.90" stroke="#222" stroke-width="0.9" fill="none"/>
<text x="380.20" y="305.50" font-size="7.8" text-anchor="middle" fill="#1a1a1a" font-weight="normal" >Human primary B cells</text>
<text x="380.20" y="314.50" font-size="7.8" text-anchor="middle" fill="#1a1a1a" font-weight="normal" >+ PHA</text>
<text transform="translate(327.20,353.90) rotate(-90)" x="0" y="0" font-size="8" text-anchor="middle" fill="#1a1a1a" font-weight="bold" style="stroke:none" textLength="53" lengthAdjust="spacingAndGlyphs">Normalized cell count</text>
<text x="380.20" y="411.00" font-size="7.6" text-anchor="middle" fill="#1a1a1a" font-weight="bold" style="stroke:none" textLength="20.8" lengthAdjust="spacingAndGlyphs">Time [d]</text>
<polyline points="354.20,346.90 362.72,346.90 371.24,346.90 379.76,346.90 388.28,346.90 396.80,346.90 405.32,346.90" fill="none" stroke="#a6d0e0" stroke-width="1.6"/>
<path d="M362.72 344.38V349.42M361.62 344.38H363.82M361.62 349.42H363.82M371.24 345.64V348.16M370.14 345.64H372.34M370.14 348.16H372.34M379.76 343.54V350.26M378.66 343.54H380.86M378.66 350.26H380.86M388.28 345.64V348.16M387.18 345.64H389.38M387.18 348.16H389.38M396.80 344.80V349.00M395.70 344.80H397.90M395.70 349.00H397.90M405.32 344.80V349.00M404.22 344.80H406.42M404.22 349.00H406.42" stroke="#5c6670" stroke-width="0.75" fill="none"/>
<circle cx="354.20" cy="346.90" r="1.2" fill="#1d3a58"/>
<circle cx="362.72" cy="346.90" r="1.2" fill="#1d3a58"/>
<circle cx="371.24" cy="346.90" r="1.2" fill="#1d3a58"/>
<circle cx="379.76" cy="346.90" r="1.2" fill="#1d3a58"/>
<circle cx="388.28" cy="346.90" r="1.2" fill="#1d3a58"/>
<circle cx="396.80" cy="346.90" r="1.2" fill="#1d3a58"/>
<circle cx="405.32" cy="346.90" r="1.2" fill="#1d3a58"/>
<polyline points="354.20,346.90 362.72,343.83 371.24,342.70 379.76,352.23 388.28,343.54 396.80,345.22 405.32,354.67" fill="none" stroke="#cc2a48" stroke-width="0.9"/>
<path d="M362.72 342.57V345.09M361.62 342.57H363.82M361.62 345.09H363.82M371.24 341.86V343.54M370.14 341.86H372.34M370.14 343.54H372.34M379.76 350.97V353.49M378.66 350.97H380.86M378.66 353.49H380.86M388.28 339.34V347.74M387.18 339.34H389.38M387.18 347.74H389.38M396.80 343.12V347.32M395.70 343.12H397.90M395.70 347.32H397.90M405.32 351.31V358.03M404.22 351.31H406.42M404.22 358.03H406.42" stroke="#b83050" stroke-width="0.75" fill="none"/>
<circle cx="354.20" cy="346.90" r="1.3" fill="#8a1030"/>
<circle cx="362.72" cy="343.83" r="1.3" fill="#8a1030"/>
<circle cx="371.24" cy="342.70" r="1.3" fill="#8a1030"/>
<circle cx="379.76" cy="352.23" r="1.3" fill="#8a1030"/>
<circle cx="388.28" cy="343.54" r="1.3" fill="#8a1030"/>
<circle cx="396.80" cy="345.22" r="1.3" fill="#8a1030"/>
<circle cx="405.32" cy="354.67" r="1.3" fill="#8a1030"/>
<path d="M482.20 63.50H488.80" stroke="#3b5670" stroke-width="0.8"/>
<circle cx="485.60" cy="63.50" r="1.2" fill="#1d3a58"/>
<path d="M482.20 72.60H488.80" stroke="#d86080" stroke-width="1.2"/>
<circle cx="485.60" cy="72.60" r="1.35" fill="#8a1030"/>
<text x="491.20" y="65.70" font-size="6.4" text-anchor="start" fill="#2a2a2a" font-weight="normal" style="stroke:#333;stroke-width:0.12px">Solvent</text>
<text x="491.20" y="74.80" font-size="6.4" text-anchor="start" fill="#2a2a2a" font-weight="normal" style="stroke:#333;stroke-width:0.12px">CB-839</text>
<path d="M482.00 202.30H488.60" stroke="#3b5670" stroke-width="0.8"/>
<circle cx="485.40" cy="202.30" r="1.2" fill="#1d3a58"/>
<path d="M482.00 211.20H488.60" stroke="#d86080" stroke-width="1.2"/>
<circle cx="485.40" cy="211.20" r="1.35" fill="#8a1030"/>
<text x="491.00" y="204.50" font-size="6.4" text-anchor="start" fill="#2a2a2a" font-weight="normal" style="stroke:#333;stroke-width:0.12px">Solvent</text>
<text x="491.00" y="213.40" font-size="6.4" text-anchor="start" fill="#2a2a2a" font-weight="normal" style="stroke:#333;stroke-width:0.12px">CB-839</text>
<path d="M425.30 349.40H431.90" stroke="#3b5670" stroke-width="0.8"/>
<circle cx="428.70" cy="349.40" r="1.2" fill="#1d3a58"/>
<path d="M425.30 358.10H431.90" stroke="#d86080" stroke-width="1.2"/>
<circle cx="428.70" cy="358.10" r="1.35" fill="#8a1030"/>
<text x="434.30" y="351.60" font-size="6.4" text-anchor="start" fill="#2a2a2a" font-weight="normal" style="stroke:#333;stroke-width:0.12px">Solvent</text>
<text x="434.30" y="360.30" font-size="6.4" text-anchor="start" fill="#2a2a2a" font-weight="normal" style="stroke:#333;stroke-width:0.12px">CB-839</text>
<text x="5.90" y="15.70" font-size="11" text-anchor="start" fill="#111" font-weight="bold" >A</text>
<text x="7.30" y="154.40" font-size="11" text-anchor="start" fill="#111" font-weight="bold" >B</text>
<text x="69.00" y="294.30" font-size="11" text-anchor="start" fill="#111" font-weight="bold" >C</text>
</svg></div></body></html>
